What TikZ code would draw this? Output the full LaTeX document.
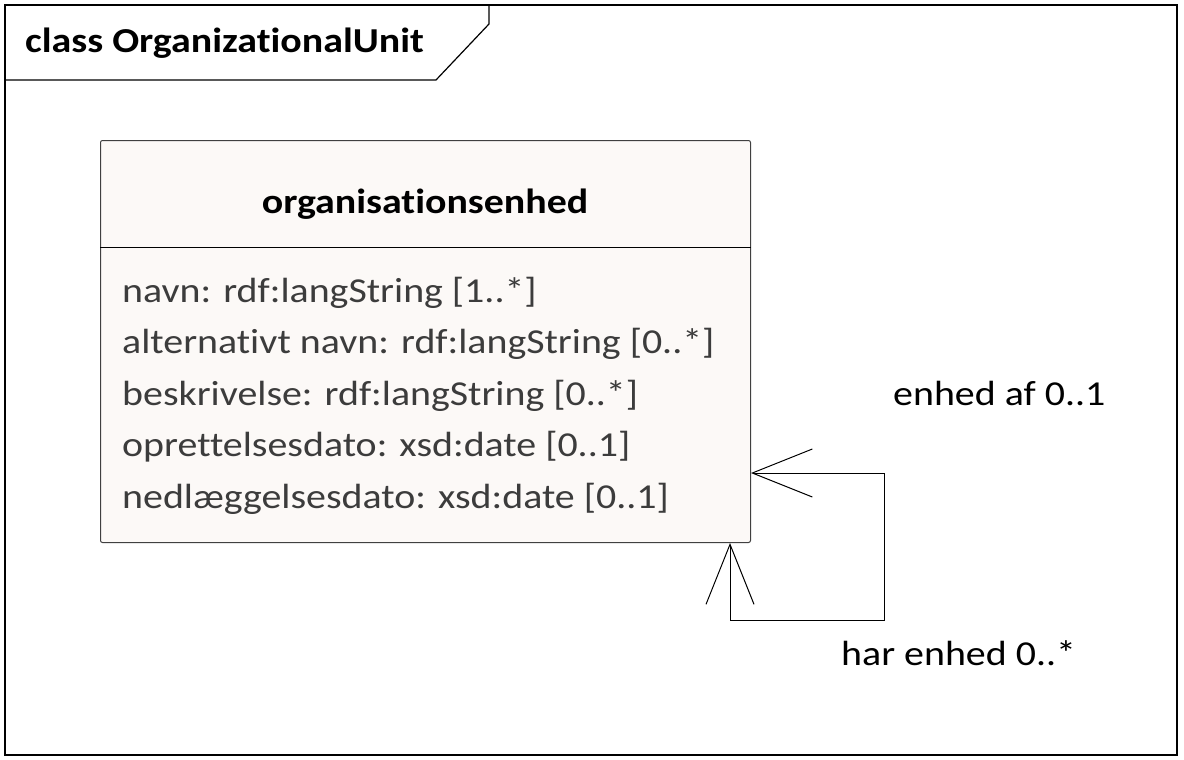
\documentclass[tikz,border=0pt]{standalone}
\usepackage{fontspec}
\setmainfont{Carlito}[FakeStretch=1.14, Ligatures={NoCommon,NoRequired,NoContextual}]
\usetikzlibrary{arrows.meta,calc}
\definecolor{classfill}{RGB}{252,249,247}
\definecolor{attrgray}{RGB}{60,60,60}
\tikzset{
    frame-line/.style = {draw=black, line width=1.2pt},
    class-box/.style = {draw=black!75, fill=classfill, line width=1pt, rectangle, rounded corners=2pt, minimum width=650pt, minimum height=402pt, inner sep=0pt, anchor=north west},
    class-name/.style = {font=\fontsize{35}{42}\selectfont\bfseries, inner sep=0pt, anchor=base},
    attr-text/.style = {font=\fontsize{35}{42}\selectfont, text=attrgray, inner sep=0pt, anchor=base west},
    role-label/.style = {font=\fontsize{35}{42}\selectfont, inner sep=0pt, anchor=base west},
    assoc/.style = {draw=black, line width=1pt, {Straight Barb[length=60pt,width=48pt]}-{Straight Barb[length=60pt,width=48pt]}},
}

\begin{document}
\begin{tikzpicture}[x=1pt,y=-1pt]
\useasboundingbox (0,0) rectangle (1184,760);
% diagram frame and its name tab
\draw[frame-line] (5,5) rectangle (1177,755);
\draw[frame-line] (5,80) -- (436,80) -- (489,24) -- (489,5);
\node[class-name, anchor=base west] (title) at (25,53) {class OrganizationalUnit};

% the class
\node[class-box] (cls) at (100,140) {};
\draw[line width=1pt] ($(cls.north west)+(0,107)$) -- ($(cls.north east)+(0,107)$);
\node[class-name] (clsname) at (425,213) {organisationsenhed};
\node[attr-text] (attr1) at (122,302) {navn: rdf:langString [1..*]};
\node[attr-text] (attr2) at (122,353.5) {alternativt navn: rdf:langString [0..*]};
\node[attr-text] (attr3) at (122,405) {beskrivelse: rdf:langString [0..*]};
\node[attr-text] (attr4) at (122,456.5) {oprettelsesdato: xsd:date [0..1]};
\node[attr-text] (attr5) at (122,508) {nedlæggelsesdato: xsd:date [0..1]};

% self association
\coordinate (endA) at ($(cls.south east)+(0,-70)$);
\coordinate (endB) at ($(cls.south east)+(-21,0)$);
\coordinate (loop) at (884,620);
\draw[assoc] (endB) |- (loop) |- (endA);
\node[role-label] (roleA) at (893,405) {enhed af 0..1};
\node[role-label] (roleB) at (841,665) {har enhed 0..*};
\end{tikzpicture}
\end{document}
